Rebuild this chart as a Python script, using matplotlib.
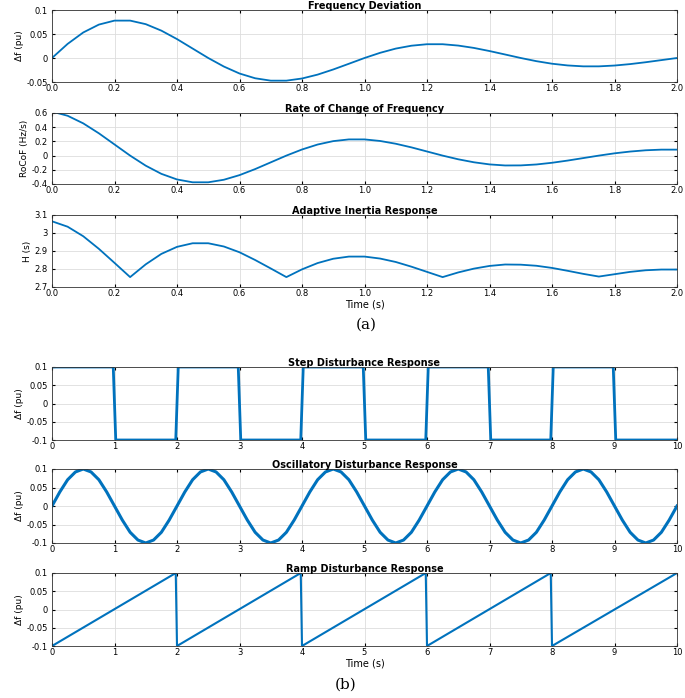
import matplotlib
matplotlib.use("Agg")
import matplotlib.pyplot as plt
import numpy as np

# ---- panel (a): values, t step 0.05 ----
t_a = np.linspace(0, 2, 41)
freq_dev = [0, .0294, .0532, .0696, .0779, .0779, .0705, .0570, .0394, .0197,
            0, -.0178, -.0323, -.0422, -.0472, -.0472, -.0427, -.0346, -.0239, -.0120,
            0, .0108, .0196, .0256, .0287, .0287, .0259, .0210, .0145, .0073,
            0, -.0066, -.0119, -.0155, -.0174, -.0174, -.0157, -.0127, -.0088, -.0044, 0]
rocof = [.620, .561, .454, .314, .157, 0, -.142, -.257, -.336, -.376,
         -.376, -.340, -.275, -.190, -.095, 0, .086, .156, .204, .228,
         .228, .206, .167, .116, .058, 0, -.052, -.094, -.124, -.139,
         -.138, -.125, -.101, -.070, -.035, 0, .032, .057, .075, .084, .084]
inertia = [3.065, 3.035, 2.982, 2.912, 2.834, 2.755, 2.826, 2.884, 2.923, 2.943,
           2.943, 2.925, 2.893, 2.850, 2.803, 2.755, 2.798, 2.833, 2.857, 2.869,
           2.869, 2.858, 2.839, 2.813, 2.784, 2.755, 2.781, 2.802, 2.817, 2.825,
           2.824, 2.818, 2.806, 2.790, 2.773, 2.758, 2.771, 2.784, 2.793, 2.797, 2.797]

# ---- panel (b) ----
t_step = [0, 0.98, 1.02, 1.98, 2.02, 2.98, 3.02, 3.98, 4.02, 4.98, 5.02,
          5.98, 6.02, 6.98, 7.02, 7.98, 8.02, 8.98, 9.02, 10]
step_resp = [.1, .1, -.1, -.1, .1, .1, -.1, -.1, .1, .1, -.1,
             -.1, .1, .1, -.1, -.1, .1, .1, -.1, -.1]

t_osc = np.linspace(0, 10, 81)
osc_resp = [0, .038, .071, .092, .1, .092, .071, .038, 0, -.038, -.071, -.092, -.1, -.092, -.071, -.038,
            0, .038, .071, .092, .1, .092, .071, .038, 0, -.038, -.071, -.092, -.1, -.092, -.071, -.038,
            0, .038, .071, .092, .1, .092, .071, .038, 0, -.038, -.071, -.092, -.1, -.092, -.071, -.038,
            0, .038, .071, .092, .1, .092, .071, .038, 0, -.038, -.071, -.092, -.1, -.092, -.071, -.038,
            0, .038, .071, .092, .1, .092, .071, .038, 0, -.038, -.071, -.092, -.1, -.092, -.071, -.038, 0]

t_ramp = [0, 1.98, 2.0, 3.98, 4.0, 5.98, 6.0, 7.98, 8.0, 10]
ramp_resp = [-.1, .1, -.1, .1, -.1, .1, -.1, .1, -.1, .1]

BLUE = "#0072BD"
W, H = 685, 698
fig = plt.figure(figsize=(W / 100, H / 100), dpi=100)


def make_ax(top, bottom, left=52, right=677):
    return fig.add_axes([left / W, 1 - bottom / H, (right - left) / W, (bottom - top) / H])


def style(ax, title, ylabel, xlim, xticks, ylim, yticks, ytl=None):
    ax.set_xlim(xlim)
    ax.set_ylim(ylim)
    ax.set_xticks(xticks)
    ax.set_yticks(yticks)
    if ytl:
        ax.set_yticklabels(ytl)
    ax.grid(True, color="#dddddd", linewidth=0.6)
    ax.set_axisbelow(True)
    ax.tick_params(direction="in", labelsize=6, length=2.5, pad=1.5, top=True, right=True)
    ax.tick_params(axis="y", pad=3)
    ax.set_ylabel(ylabel, fontsize=6.5, labelpad=2)
    ax.set_title(title, fontsize=7, fontweight="bold", pad=1)
    for s in ax.spines.values():
        s.set_linewidth(0.6)
        s.set_color("#333333")


ax = make_ax(10, 82)
ax.plot(t_a, freq_dev, color=BLUE, lw=1.3)
style(ax, "Frequency Deviation", "Δf (pu)", (0, 2), np.arange(0, 2.01, 0.2),
      (-0.05, 0.1), [-0.05, 0, 0.05, 0.1], ["-0.05", "0", "0.05", "0.1"])

ax = make_ax(113, 184)
ax.plot(t_a, rocof, color=BLUE, lw=1.3)
style(ax, "Rate of Change of Frequency", "RoCoF (Hz/s)", (0, 2), np.arange(0, 2.01, 0.2),
      (-0.4, 0.6), [-0.4, -0.2, 0, 0.2, 0.4, 0.6], ["-0.4", "-0.2", "0", "0.2", "0.4", "0.6"])

ax = make_ax(215, 287)
ax.plot(t_a, inertia, color=BLUE, lw=1.3)
style(ax, "Adaptive Inertia Response", "H (s)", (0, 2), np.arange(0, 2.01, 0.2),
      (2.7, 3.1), [2.7, 2.8, 2.9, 3.0, 3.1], ["2.7", "2.8", "2.9", "3", "3.1"])
ax.set_xlabel("Time (s)", fontsize=7, labelpad=1)
fig.text(366 / W, 1 - 325 / H, "(a)", ha="center", va="center", fontsize=11, family="DejaVu Serif")

yt = [-0.1, -0.05, 0, 0.05, 0.1]
ytl = ["-0.1", "-0.05", "0", "0.05", "0.1"]
ax = make_ax(367, 440)
ax.plot(t_step, step_resp, color=BLUE, lw=2)
style(ax, "Step Disturbance Response", "Δf (pu)", (0, 10), range(11), (-0.1, 0.1), yt, ytl)

ax = make_ax(469, 543)
ax.plot(t_osc, osc_resp, color=BLUE, lw=2.2)
style(ax, "Oscillatory Disturbance Response", "Δf (pu)", (0, 10), range(11), (-0.1, 0.1), yt, ytl)

ax = make_ax(573, 646)
ax.plot(t_ramp, ramp_resp, color=BLUE, lw=1.5)
style(ax, "Ramp Disturbance Response", "Δf (pu)", (0, 10), range(11), (-0.1, 0.1), yt, ytl)
ax.set_xlabel("Time (s)", fontsize=7, labelpad=1)
fig.text(346 / W, 1 - 685 / H, "(b)", ha="center", va="center", fontsize=11, family="DejaVu Serif")

fig.savefig("out.png", dpi=100)
